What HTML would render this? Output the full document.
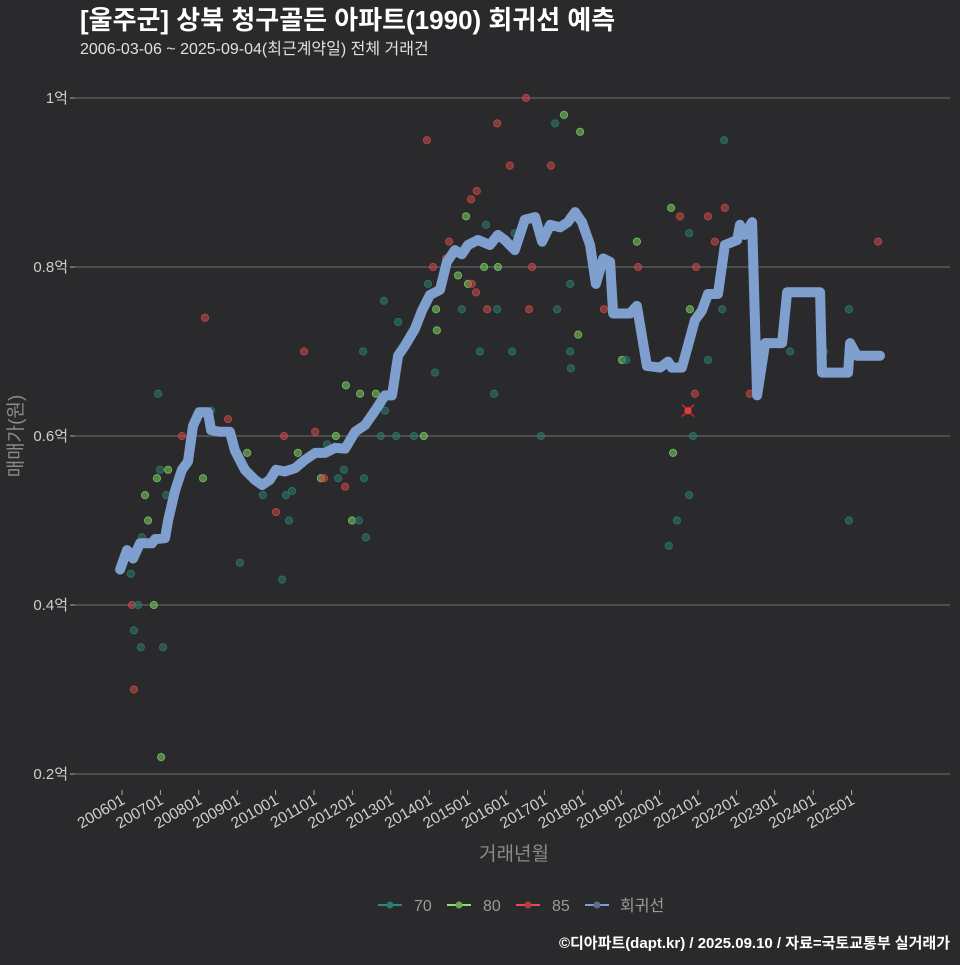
<!DOCTYPE html>
<html><head><meta charset="utf-8">
<style>
html,body{margin:0;padding:0;background:#2a2a2c;}
body{width:960px;height:960px;overflow:hidden;font-family:"Liberation Sans","Noto Sans CJK KR",sans-serif;}
</style></head>
<body>
<svg id="chart" width="960" height="960" xmlns="http://www.w3.org/2000/svg" style="font-family:'Liberation Sans','Noto Sans CJK KR',sans-serif">
<rect width="960" height="960" fill="#2a2a2c"/>
<text x="80" y="29" fill="#ffffff" font-size="26" font-weight="bold">[울주군] 상북 청구골든 아파트(1990) 회귀선 예측</text>
<text x="80" y="54" fill="#e0e0e0" font-size="16">2006-03-06 ~ 2025-09-04(최근계약일) 전체 거래건</text>
<g id="grid"></g><g id="pts"></g><g id="line"></g><g id="axes"></g>
<text transform="translate(22,436) rotate(-90)" text-anchor="middle" fill="#8a8a8a" font-size="19">매매가(원)</text>
<text x="514" y="860" text-anchor="middle" fill="#8a8a8a" font-size="19">거래년월</text>
<g font-size="16" fill="#9a9a9a">
 <g><line x1="378" y1="905" x2="402" y2="905" stroke="#2a8a80" stroke-width="2"/><circle cx="390" cy="905" r="3.5" fill="#2a7a70"/><text x="414" y="911">70</text></g>
 <g><line x1="447" y1="905" x2="471" y2="905" stroke="#8adf70" stroke-width="2"/><circle cx="459" cy="905" r="3.5" fill="#6aaa50"/><text x="483" y="911">80</text></g>
 <g><line x1="516" y1="905" x2="540" y2="905" stroke="#e05050" stroke-width="2"/><circle cx="528" cy="905" r="3.5" fill="#b04040"/><text x="552" y="911">85</text></g>
 <g><line x1="585" y1="905" x2="609" y2="905" stroke="#7f9fcf" stroke-width="2"/><circle cx="597" cy="905" r="3.5" fill="#5a7090"/><text x="620" y="911">회귀선</text></g>
</g>
<text x="950" y="948" text-anchor="end" fill="#ffffff" font-size="15" font-weight="bold">©디아파트(dapt.kr) / 2025.09.10 / 자료=국토교통부 실거래가</text>
</svg>
<script>
const yTicks=[0.2,0.4,0.6,0.8,1.0];
const yTickLabels=["0.2억","0.4억","0.6억","0.8억","1억"];
const xTickYears=[2006,2007,2008,2009,2010,2011,2012,2013,2014,2015,2016,2017,2018,2019,2020,2021,2022,2023,2024,2025];
const xTickLabels=["200601","200701","200801","200901","201001","201101","201201","201301","201401","201501","201601","201701","201801","201901","202001","202101","202201","202301","202401","202501"];
const lineT=[2005.95,2006.13,2006.29,2006.47,2006.78,2006.86,2007.12,2007.20,2007.38,2007.56,2007.72,2007.85,2008.01,2008.24,2008.32,2008.55,2008.81,2008.94,2009.20,2009.46,2009.65,2009.85,2010.01,2010.24,2010.51,2010.77,2011.03,2011.29,2011.55,2011.81,2012.07,2012.33,2012.59,2012.85,2013.03,2013.19,2013.37,2013.63,2013.81,2014.02,2014.28,2014.46,2014.67,2014.85,2015.01,2015.27,2015.58,2015.79,2015.97,2016.23,2016.49,2016.76,2016.94,2017.15,2017.41,2017.61,2017.80,2017.98,2018.19,2018.34,2018.53,2018.71,2018.79,2019.23,2019.41,2019.67,2020.01,2020.22,2020.32,2020.58,2020.74,2020.92,2021.10,2021.26,2021.52,2021.70,2022.02,2022.09,2022.22,2022.41,2022.54,2022.75,2023.19,2023.32,2024.18,2024.23,2024.91,2024.96,2025.14,2025.74];
const lineV=[0.442,0.465,0.455,0.473,0.473,0.478,0.479,0.5,0.535,0.56,0.57,0.612,0.628,0.628,0.607,0.605,0.605,0.583,0.56,0.548,0.542,0.548,0.56,0.558,0.562,0.572,0.58,0.58,0.586,0.585,0.605,0.613,0.63,0.648,0.648,0.695,0.707,0.727,0.748,0.767,0.773,0.806,0.82,0.815,0.826,0.832,0.826,0.838,0.832,0.82,0.856,0.859,0.83,0.85,0.847,0.853,0.865,0.853,0.826,0.78,0.81,0.806,0.745,0.745,0.754,0.683,0.681,0.688,0.681,0.681,0.707,0.737,0.748,0.768,0.768,0.826,0.832,0.85,0.838,0.853,0.648,0.71,0.71,0.77,0.77,0.675,0.675,0.71,0.695,0.695];
const ptT=[2006.23,2006.26,2006.31,2006.31,2006.42,2006.49,2006.60,2006.68,2006.52,2006.83,2006.91,2006.94,2006.99,2007.02,2007.07,2007.15,2007.20,2007.56,2008.11,2008.16,2008.32,2008.76,2009.07,2009.26,2009.67,2010.01,2010.17,2010.22,2010.27,2010.35,2010.43,2010.58,2010.74,2011.03,2011.18,2011.26,2011.34,2011.57,2011.63,2011.78,2011.81,2011.83,2011.99,2012.17,2012.20,2012.28,2012.35,2012.30,2012.61,2012.74,2012.82,2012.85,2013.14,2013.19,2013.60,2013.86,2013.94,2014.10,2014.15,2014.20,2014.18,2013.97,2014.44,2014.52,2014.75,2014.85,2014.96,2015.01,2015.09,2015.11,2015.22,2015.24,2015.32,2015.43,2015.48,2015.51,2015.69,2015.77,2015.79,2015.77,2016.10,2016.16,2016.23,2016.52,2016.60,2016.68,2016.91,2017.17,2017.28,2017.33,2017.51,2017.67,2017.67,2017.69,2017.88,2017.93,2018.55,2019.02,2019.13,2019.41,2019.44,2020.24,2020.30,2020.35,2020.45,2020.53,2020.77,2020.77,2020.79,2020.87,2020.92,2020.95,2021.26,2021.26,2021.44,2021.63,2021.68,2021.70,2022.35,2023.40,2024.28,2024.93,2024.93,2025.69];
const ptV=[0.437,0.40,0.37,0.30,0.40,0.35,0.53,0.50,0.48,0.40,0.55,0.65,0.56,0.22,0.35,0.53,0.56,0.60,0.55,0.74,0.63,0.62,0.45,0.58,0.53,0.51,0.43,0.60,0.53,0.50,0.535,0.58,0.70,0.605,0.55,0.55,0.59,0.60,0.55,0.56,0.54,0.66,0.50,0.50,0.65,0.70,0.48,0.55,0.65,0.60,0.76,0.63,0.60,0.735,0.60,0.60,0.95,0.80,0.675,0.725,0.75,0.78,0.81,0.83,0.79,0.75,0.86,0.78,0.88,0.78,0.77,0.89,0.70,0.80,0.85,0.75,0.65,0.97,0.80,0.75,0.92,0.70,0.84,1.0,0.75,0.80,0.60,0.92,0.97,0.75,0.98,0.78,0.70,0.68,0.72,0.96,0.75,0.69,0.69,0.83,0.80,0.47,0.87,0.58,0.50,0.86,0.84,0.53,0.75,0.60,0.65,0.80,0.69,0.86,0.83,0.75,0.95,0.87,0.65,0.70,0.70,0.75,0.50,0.83];
const ptType=["70","85","70","85","70","70","80","80","70","80","80","70","70","80","70","70","80","85","80","85","70","85","70","80","70","85","70","85","70","70","70","80","85","85","80","85","70","80","70","70","85","80","80","70","80","70","70","70","80","70","70","70","70","70","70","80","85","85","70","80","80","70","85","85","80","70","80","80","85","85","85","85","70","80","70","85","70","85","80","70","85","70","70","85","85","85","70","85","70","70","80","70","70","70","80","80","85","80","70","80","85","70","80","80","70","85","70","70","80","70","85","85","70","85","85","70","70","85","85","70","70","70","70","85"];
const crossT=[2020.74];
const crossV=[0.63];
const X=t=>122+(t-2006)*38.4;
const Y=v=>774-(v-0.2)*845;
const NS="http://www.w3.org/2000/svg";
function mk(tag,attrs,parent){const e=document.createElementNS(NS,tag);for(const k in attrs)e.setAttribute(k,attrs[k]);parent.appendChild(e);return e;}
const grid=document.getElementById('grid'),axes=document.getElementById('axes');
yTicks.forEach((v,i)=>{
 const g=mk('line',{x1:75,x2:950,y1:Y(v),y2:Y(v),stroke:'#707070','stroke-width':1},grid);
 
 
 const tk=mk('line',{x1:70,x2:75,y1:Y(v),y2:Y(v),stroke:'#aaa'},axes);
 
 
 const t=mk('text',{x:68,y:Y(v)+5,'text-anchor':'end',fill:'#cfcfcf','font-size':15},axes);
 t.textContent=yTickLabels[i];
 
 
});
xTickYears.forEach((yr,i)=>{
 const x=X(yr);
 const tk=mk('line',{x1:x,x2:x,y1:790,y2:795,stroke:'#aaa'},axes);
 
 
 const t=mk('text',{x:x+4,y:803,'text-anchor':'end',fill:'#cfcfcf','font-size':15.5,transform:`rotate(-30 ${x+4} 803)`},axes);
 t.textContent=xTickLabels[i];
 
 
});
const cols={"70":"#2a7a70","80":"#7acc60","85":"#c84848"};
const pts=document.getElementById('pts');
ptT.forEach((t,i)=>{
 const c=mk('circle',{cx:X(t),cy:Y(ptV[i]),r:3.6,fill:cols[ptType[i]],'fill-opacity':0.55,stroke:cols[ptType[i]],'stroke-opacity':0.8,'stroke-width':1},pts);
 
 
});
crossT.forEach((t,i)=>{
 const x=X(t),y=Y(crossV[i]);
 const g=mk('path',{d:`M${x-6} ${y-6}L${x+6} ${y+6}M${x+6} ${y-6}L${x-6} ${y+6}`,stroke:'#d02828','stroke-width':1.5},pts);
 
 
 const c=mk('circle',{cx:x,cy:y,r:3.6,fill:'#d84040'},pts);
 
 
});
const d=lineT.map((t,i)=>(i?'L':'M')+X(t).toFixed(1)+' '+Y(lineV[i]).toFixed(1)).join(' ');
const pl=mk('path',{d:d,fill:'none',stroke:'#7f9fcf','stroke-width':10,'stroke-linejoin':'round','stroke-linecap':'round'},document.getElementById('line'));


</script>
</body></html>
